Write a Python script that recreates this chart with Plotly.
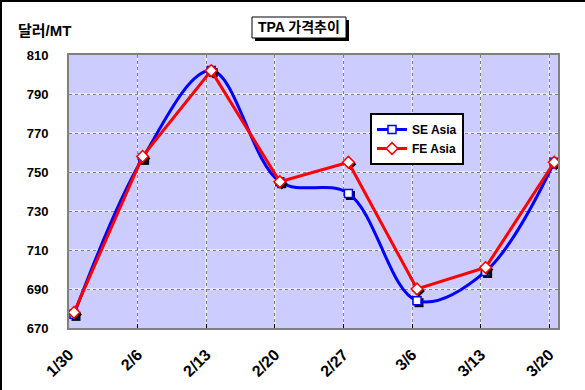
import plotly.graph_objects as go

# ---- data ----
dates = ["1/30", "2/6", "2/13", "2/20", "2/27", "3/6", "3/13", "3/20"]
se_asia = [677, 757, 802, 745, 739, 684, 699, 755]
fe_asia = [678, 758, 802, 745, 755, 690, 701, 755]
y_ticks = [670, 690, 710, 730, 750, 770, 790, 810]
series_names = ["SE Asia", "FE Asia"]

# ---- layout constants ----
W, H = 585, 390
ML, MR, MT, MB = 69, 27, 55, 62
PW, PH = W - ML - MR, H - MT - MB
X_SHIFT = 0.073            # gridlines sit slightly left of the data points
X_MIN, X_MAX = -X_SHIFT, 7.055
Y_MIN, Y_MAX = 670, 810

FONT = "Liberation Sans, Arial, Noto Sans CJK KR, sans-serif"


def xp(px):
    return (px - ML) / PW


def yp(py):
    return (H - MB - py) / PH


xs = list(range(len(dates)))
tickpos = [i - X_SHIFT for i in xs]

# pixel -> data unit offsets for marker shadows
dx = 2 * (X_MAX - X_MIN) / PW
dy = 2 * (Y_MAX - Y_MIN) / PH

fig = go.Figure()

fig.add_trace(go.Scatter(x=[v + dx for v in xs], y=[v - dy for v in se_asia], mode="markers",
                         marker=dict(symbol="square", size=9, color="black"),
                         showlegend=False, hoverinfo="skip"))
fig.add_trace(go.Scatter(x=xs, y=se_asia, name=series_names[0], mode="lines+markers",
                         line=dict(color="#0000FF", width=3, shape="spline", smoothing=1),
                         marker=dict(symbol="square", size=8, color="white",
                                     line=dict(color="#0000FF", width=1.5))))
fig.add_trace(go.Scatter(x=[v + dx for v in xs], y=[v - dy for v in fe_asia], mode="markers",
                         marker=dict(symbol="diamond", size=9, color="black"),
                         showlegend=False, hoverinfo="skip"))
fig.add_trace(go.Scatter(x=xs, y=fe_asia, name=series_names[1], mode="lines+markers",
                         line=dict(color="#FF0000", width=3),
                         marker=dict(symbol="diamond", size=9, color="white",
                                     line=dict(color="#FF0000", width=1.5))))

shapes = []
for t in tickpos[1:]:
    shapes.append(dict(type="line", xref="x", yref="paper", x0=t, x1=t, y0=0, y1=1,
                       line=dict(color="white", width=1), layer="below"))
for v in y_ticks[1:-1]:
    shapes.append(dict(type="line", xref="paper", yref="y", x0=0, x1=1, y0=v, y1=v,
                       line=dict(color="white", width=1), layer="below"))

# figure border (left & top)
shapes.append(dict(type="line", xref="paper", yref="paper", x0=xp(1), x1=xp(1), y0=yp(0), y1=yp(H),
                   line=dict(color="black", width=2)))
shapes.append(dict(type="line", xref="paper", yref="paper", x0=xp(0), x1=xp(W), y0=yp(1), y1=yp(1),
                   line=dict(color="black", width=2)))

# title box with shadow
shapes.append(dict(type="rect", xref="paper", yref="paper", x0=xp(255), x1=xp(349), y0=yp(20), y1=yp(41),
                   fillcolor="black", line=dict(width=0)))
shapes.append(dict(type="rect", xref="paper", yref="paper", x0=xp(252), x1=xp(346), y0=yp(17), y1=yp(38),
                   fillcolor="white", line=dict(color="black", width=1)))

annotations = [
    dict(text="TPA 가격추이", xref="paper", yref="paper", x=xp(299), y=yp(27.5),
         xanchor="center", yanchor="middle", showarrow=False,
         font=dict(family=FONT, size=14, color="black", weight="bold")),
    dict(text="달러/MT", xref="paper", yref="paper", x=xp(16), y=yp(30),
         xanchor="left", yanchor="middle", showarrow=False,
         font=dict(family=FONT, size=15, color="black", weight="bold")),
]

fig.update_layout(
    width=W, height=H,
    margin=dict(l=ML, r=MR, t=MT, b=MB, autoexpand=False),
    paper_bgcolor="white",
    plot_bgcolor="#CCCCFF",
    font=dict(family=FONT, size=13, color="black"),
    shapes=shapes,
    annotations=annotations,
    legend=dict(x=xp(370), y=yp(113), xanchor="left", yanchor="top",
                bgcolor="white", bordercolor="black", borderwidth=2,
                itemwidth=30,
                font=dict(family=FONT, size=12, color="black", weight="bold")),
    xaxis=dict(range=[X_MIN, X_MAX], tickmode="array", tickvals=tickpos, ticktext=dates,
               tickangle=-45, showgrid=True, gridcolor="#808080", griddash="3px,3px", gridwidth=1,
               ticks="inside", ticklen=4, tickcolor="black",
               showline=True, linecolor="#808080", linewidth=2, mirror=True,
               ticklabelstandoff=9, zeroline=False,
               tickfont=dict(family=FONT, size=16, color="black", weight="bold")),
    yaxis=dict(range=[Y_MIN, Y_MAX], tickmode="array", tickvals=y_ticks,
               showgrid=True, gridcolor="#808080", griddash="3px,3px", gridwidth=1,
               showline=True, linecolor="#808080", linewidth=2, mirror=True,
               ticks="", ticklabelstandoff=16, zeroline=False,
               tickfont=dict(family=FONT, size=13, color="black", weight="bold")),
)

fig.write_html("out.html", config={"displayModeBar": False},
               post_script="document.body.style.margin='0';")
